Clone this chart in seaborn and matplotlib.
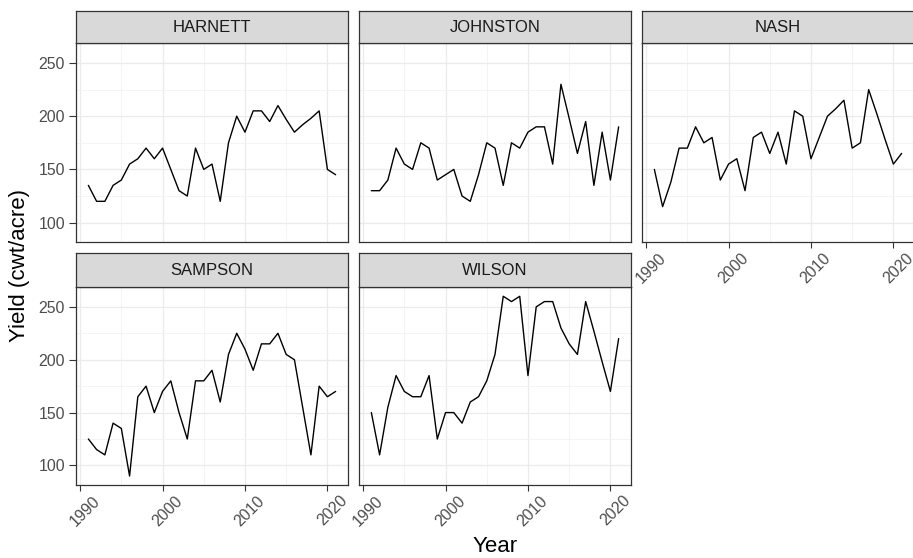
import matplotlib
matplotlib.use("Agg")
import matplotlib.pyplot as plt
import matplotlib.transforms as mtransforms
import pandas as pd
import seaborn as sns

# Yield by county and year
years = [1991, 1992, 1993, 1994, 1995, 1996, 1997, 1998, 1999, 2000,
         2001, 2002, 2003, 2004, 2005, 2006, 2007, 2008, 2009, 2010,
         2011, 2012, 2013, 2014, 2015, 2016, 2017, 2018, 2019, 2020, 2021]

harnett = [135, 120, 120, 135, 140, 155, 160, 170, 160, 170,
           150, 130, 125, 170, 150, 155, 120, 175, 200, 185,
           205, 205, 195, 210, 197, 185, 192, 198, 205, 150, 145]
johnston = [130, 130, 140, 170, 155, 150, 175, 170, 140, 145,
            150, 125, 120, 145, 175, 170, 135, 175, 170, 185,
            190, 190, 155, 230, 198, 165, 195, 135, 185, 140, 190]
nash = [150, 115, 138, 170, 170, 190, 175, 180, 140, 155,
        160, 130, 180, 185, 165, 185, 155, 205, 200, 160,
        180, 200, 207, 215, 170, 175, 225, 202, 178, 155, 165]
sampson = [125, 115, 110, 140, 135, 90, 165, 175, 150, 170,
           180, 150, 125, 180, 180, 190, 160, 205, 225, 210,
           190, 215, 215, 225, 205, 200, 155, 110, 175, 165, 170]
wilson = [150, 110, 155, 185, 170, 165, 165, 185, 125, 150,
          150, 140, 160, 165, 180, 205, 260, 255, 260, 185,
          250, 255, 255, 230, 215, 205, 255, 227, 198, 170, 220]

counties = ["HARNETT", "JOHNSTON", "NASH", "SAMPSON", "WILSON"]
series = [harnett, johnston, nash, sampson, wilson]

x_ticks = [1990, 2000, 2010, 2020]
x_minor = [1995, 2005, 2015]
y_ticks = [100, 150, 200, 250]
y_minor = [125, 175, 225]

df = pd.concat(
    [pd.DataFrame({"county": c, "Year": years, "Yield": v}) for c, v in zip(counties, series)],
    ignore_index=True,
)

sns.set_theme(style="white")
plt.rcParams["font.family"] = ["Liberation Sans", "DejaVu Sans"]

W, H = 913, 558
fig = plt.figure(figsize=(W / 100, H / 100), dpi=100)


def rect(left, top, right, bottom):
    return [left / W, 1 - bottom / H, (right - left) / W, (bottom - top) / H]


col_left = [76, 359, 642]
panel_w = 272
rows = [((10.7, 43.3), (43.3, 242.3)), ((253.3, 287.3), (287.3, 485.0))]

border = "#333333"
grid_c = "#EBEBEB"
offset = mtransforms.ScaledTranslation(5 / 100, 0, fig.dpi_scale_trans)

for i, name in enumerate(counties):
    r, c = divmod(i, 3)
    (s_top, s_bot), (p_top, p_bot) = rows[r]
    left = col_left[c]
    right = left + panel_w

    ax = fig.add_axes(rect(left, p_top, right, p_bot))
    sns.lineplot(data=df[df["county"] == name], x="Year", y="Yield",
                 color="black", linewidth=1.0, ax=ax)
    ax.set_xlim(1989.5, 2022.5)
    ax.set_ylim(81.5, 268.5)
    ax.set_xticks(x_ticks)
    ax.set_xticks(x_minor, minor=True)
    ax.set_yticks(y_ticks)
    ax.set_yticks(y_minor, minor=True)
    ax.grid(True, which="major", color=grid_c, linewidth=0.9)
    ax.grid(True, which="minor", color="#F2F2F2", linewidth=0.6)
    ax.set_axisbelow(True)
    ax.set_xlabel("")
    ax.set_ylabel("")
    for sp in ax.spines.values():
        sp.set_visible(True)
        sp.set_color(border)
        sp.set_linewidth(0.9)

    show_x = (r == 1) or (name == "NASH")
    show_y = (c == 0)
    ax.tick_params(axis="x", which="major", bottom=show_x, labelbottom=show_x,
                   length=4.3, width=0.8, color=border, labelsize=11.4,
                   labelcolor="#4D4D4D", pad=1.5)
    ax.tick_params(axis="y", which="major", left=show_y, labelleft=show_y,
                   length=5, width=0.8, color=border, labelsize=11.4,
                   labelcolor="#4D4D4D", pad=3)
    ax.tick_params(which="minor", length=0)
    if show_x:
        for lab in ax.get_xticklabels():
            lab.set_rotation(45)
            lab.set_ha("center")
            lab.set_va("top")
            lab.set_transform(lab.get_transform() + offset)

    sax = fig.add_axes(rect(left, s_top, right, s_bot))
    sax.set_facecolor("#D9D9D9")
    sax.set_xticks([])
    sax.set_yticks([])
    for sp in sax.spines.values():
        sp.set_visible(True)
        sp.set_color(border)
        sp.set_linewidth(0.9)
    sax.text(0.5, 0.5, name, ha="center", va="center", fontsize=12,
             color="#1A1A1A", transform=sax.transAxes)

fig.text(20 / W, 1 - 265 / H, "Yield (cwt/acre)", rotation=90,
         ha="center", va="center", fontsize=16, color="black")
fig.text(495 / W, 1 - 547 / H, "Year", ha="center", va="center",
         fontsize=16, color="black")

fig.savefig("out.png", dpi=100)
